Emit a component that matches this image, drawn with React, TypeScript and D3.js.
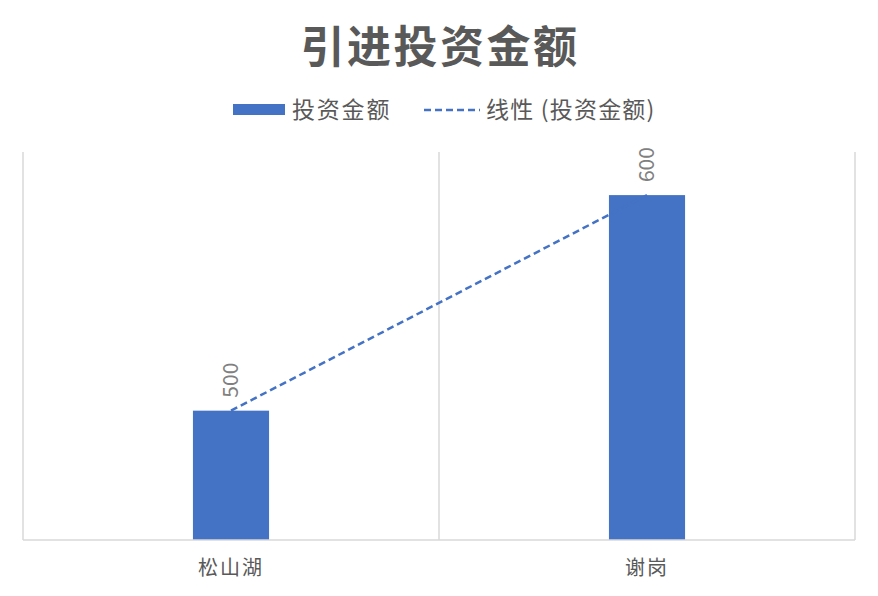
import React from "react";
import * as d3 from "d3";

const categories = ["松山湖", "谢岗"];
const values = [500, 600];
const yDomain = [440, 620];
const title = "引进投资金额";
const seriesName = "投资金额";
const trendName = "线性 (投资金额)";

const width = 878;
const height = 596;
const plot = { left: 23, right: 855, top: 152, bottom: 540 };
const blue = "#4472C4";
const textGray = "#595959";
const gridGray = "#D9D9D9";
const fontFamily = "'Noto Sans CJK SC', 'Noto Sans', sans-serif";

export default function App() {
  const x = d3
    .scaleBand<string>()
    .domain(categories)
    .range([plot.left, plot.right])
    .paddingInner(0.817)
    .paddingOuter(0.4085);

  const band = d3
    .scaleBand<string>()
    .domain(categories)
    .range([plot.left, plot.right]);

  const y = d3.scaleLinear().domain(yDomain).range([plot.bottom, plot.top]);

  const trendPoints = categories.map((c, i) => ({
    x: x(c)! + x.bandwidth() / 2,
    y: y(values[i]),
  }));

  const trend = d3
    .line<{ x: number; y: number }>()
    .x((d) => d.x)
    .y((d) => d.y);

  return (
    <svg
      width={width}
      height={height}
      style={{ position: "absolute", left: 0, top: 0, background: "#fff" }}
      fontFamily={fontFamily}
    >
      <rect width={width} height={height} fill="#fff" />

      {/* title */}
      <text
        x={width / 2 + 1}
        y={63}
        textAnchor="middle"
        fontSize={44}
        letterSpacing={2.5}
        fontWeight="bold"
        fill={textGray}
      >
        {title}
      </text>

      {/* legend */}
      <rect x={233} y={104} width={52} height={11} fill={blue} />
      <text x={292} y={118} fontSize={23} letterSpacing={1.8} fill={textGray}>
        {seriesName}
      </text>
      <line
        x1={424}
        x2={480}
        y1={110}
        y2={110}
        stroke={blue}
        strokeWidth={2.5}
        strokeDasharray="7,4"
      />
      <text x={486} y={118} fontSize={23} letterSpacing={1.2} fill={textGray}>
        {trendName}
      </text>

      {/* category gridlines */}
      {[...categories.map((c) => band(c)!), plot.right].map((gx, i) => (
        <line
          key={i}
          x1={gx}
          x2={gx}
          y1={plot.top}
          y2={plot.bottom}
          stroke={gridGray}
          strokeWidth={1.5}
        />
      ))}

      {/* bars */}
      {categories.map((c, i) => (
        <rect
          key={c}
          x={x(c)}
          y={y(values[i])}
          width={x.bandwidth()}
          height={plot.bottom - y(values[i])}
          fill={blue}
        />
      ))}

      {/* axis line */}
      <line
        x1={plot.left}
        x2={plot.right}
        y1={plot.bottom}
        y2={plot.bottom}
        stroke={gridGray}
        strokeWidth={1.5}
      />

      {/* trendline */}
      <path
        d={trend(trendPoints)!}
        fill="none"
        stroke={blue}
        strokeWidth={2.5}
        strokeDasharray="7,4"
      />

      {/* data labels */}
      {categories.map((c, i) => {
        const cx = x(c)! + x.bandwidth() / 2;
        const cy = y(values[i]) - 13;
        return (
          <text
            key={c}
            transform={`translate(${cx + 7},${cy}) rotate(-90)`}
            fontSize={21}
            fill="#808080"
          >
            {values[i]}
          </text>
        );
      })}

      {/* category labels */}
      {categories.map((c) => (
        <text
          key={c}
          x={band(c)! + band.bandwidth() / 2}
          y={575}
          textAnchor="middle"
          fontSize={20}
          letterSpacing={2}
          fill={textGray}
        >
          {c}
        </text>
      ))}
    </svg>
  );
}
